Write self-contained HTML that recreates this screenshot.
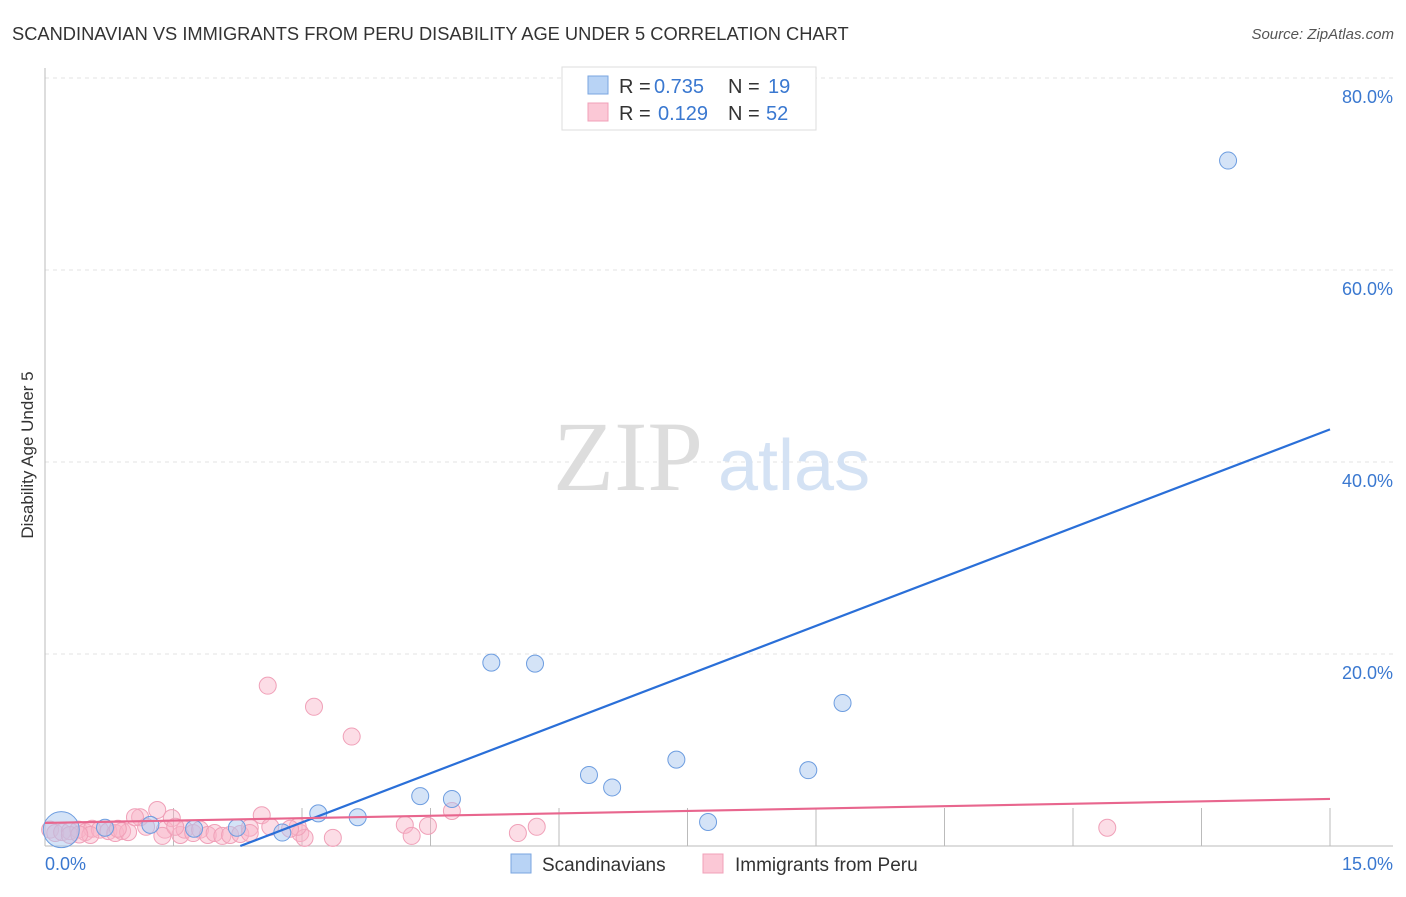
<!DOCTYPE html>
<html><head><meta charset="utf-8"><style>
body{margin:0;background:#fff;font-family:"Liberation Sans",sans-serif;}
svg text{font-family:"Liberation Sans",sans-serif;}
svg text.serif{font-family:"Liberation Serif",serif;}
</style></head><body>
<svg width="1406" height="892" xmlns="http://www.w3.org/2000/svg">
<text x="12" y="40" font-size="18.3" fill="#333">SCANDINAVIAN VS IMMIGRANTS FROM PERU DISABILITY AGE UNDER 5 CORRELATION CHART</text>
<text x="1394" y="39" font-size="15" fill="#555" font-style="italic" text-anchor="end">Source: ZipAtlas.com</text>
<g id="grid"></g>
<g id="ticks"></g>
<line x1="45" y1="68" x2="45" y2="846" stroke="#bbb"/>
<line x1="45" y1="846" x2="1393" y2="846" stroke="#bbb"/>
<g id="xticks"></g>
<text class="serif" x="553" y="490" font-size="100" fill="#ddd">ZIP</text>
<text x="718" y="490" font-size="72" fill="#d4e2f4">atlas</text>
<text x="33" y="455" font-size="17" fill="#333" text-anchor="middle" transform="rotate(-90 33 455)">Disability Age Under 5</text>
<text x="45" y="870" font-size="18" fill="#3a78d0">0.0%</text>
<text x="1393" y="870" font-size="18" fill="#3a78d0" text-anchor="end">15.0%</text>
<g id="pink"></g>
<g id="blue"></g>
<g id="lines"></g>
<g>
<rect x="562" y="67" width="254" height="63" fill="#fff" stroke="#ddd"/>
<rect x="588" y="76" width="20" height="18" fill="#b8d3f5" stroke="#7aa6e0"/>
<rect x="588" y="103" width="20" height="18" fill="#fbc8d6" stroke="#f0a0b8"/>
<text x="619" y="93" font-size="20" fill="#333">R = <tspan fill="#3a78d0" x="654">0.735</tspan><tspan x="728">N = </tspan><tspan fill="#3a78d0" x="768">19</tspan></text>
<text x="619" y="120" font-size="20" fill="#333">R = <tspan fill="#3a78d0" x="658">0.129</tspan><tspan x="728">N = </tspan><tspan fill="#3a78d0" x="766">52</tspan></text>
</g>
<g>
<rect x="511" y="854" width="20" height="19" fill="#b8d3f5" stroke="#7aa6e0"/>
<text x="542" y="871" font-size="19" fill="#333">Scandinavians</text>
<rect x="703" y="854" width="20" height="19" fill="#fbc8d6" stroke="#f0a0b8"/>
<text x="735" y="871" font-size="19" fill="#333">Immigrants from Peru</text>
</g>
</svg>
<script>
const yTicks=[20,40,60,80];
const yTickLabels=["20.0%","40.0%","60.0%","80.0%"];
const blueX=[0.19,0.70,1.23,1.74,2.24,2.77,3.19,3.65,4.38,4.75,5.21,5.72,6.35,6.62,7.37,7.74,8.91,9.31,13.81];
const blueY=[1.7,1.9,2.2,1.8,1.9,1.4,3.4,3.0,5.2,4.9,19.1,19.0,7.4,6.1,9.0,2.5,7.9,14.9,71.4];
const pinkX=[0.06,0.12,0.20,0.29,0.39,0.47,0.55,0.64,0.74,0.82,0.90,0.97,1.11,1.18,1.31,1.40,1.48,1.58,1.63,1.73,1.81,1.90,1.98,2.07,2.16,2.28,2.39,2.53,2.63,2.98,3.03,2.95,3.36,4.20,4.28,4.47,4.75,5.52,5.74,12.40,2.60,3.14,3.58,0.29,0.53,0.85,1.05,2.39,2.86,1.37,1.52,0.40];
const pinkY=[1.7,1.35,1.45,1.55,1.7,1.45,1.8,1.7,1.55,1.35,1.55,1.45,3.0,2.0,3.75,1.7,2.9,1.15,1.7,1.35,1.7,1.15,1.35,1.05,1.15,1.25,1.9,3.2,2.0,1.35,0.85,2.0,0.85,2.2,1.05,2.1,3.65,1.35,2.0,1.9,16.7,14.5,11.4,1.15,1.15,1.8,3.0,1.35,1.8,1.05,2.0,1.2];
const blueLine=[2.28,0,15,43.4];
const pinkLine=[0,2.4,15,4.9];
const xs=v=>45+v/15*1285, ys=v=>846-v*9.6;
const NS="http://www.w3.org/2000/svg";
function mk(tag,parent,attrs){const e=document.createElementNS(NS,tag);for(const k in attrs)e.setAttribute(k,attrs[k]);document.getElementById(parent).appendChild(e);return e;}
yTicks.forEach((t,i)=>{
 const l=mk('line','grid',{x1:45,x2:1393,y1:ys(t),y2:ys(t),stroke:'#e3e3e3','stroke-dasharray':'4,4'});
 
 
 const tx=mk('text','ticks',{x:1393,y:ys(t)+25,'font-size':18,fill:'#3a78d0','text-anchor':'end'});
 tx.textContent=yTickLabels[i];
 
 
});
for(let i=1;i<=10;i++){
 const l=mk('line','xticks',{x1:xs(i*1.5),x2:xs(i*1.5),y1:808,y2:846,stroke:'#bbb'});
 
 
}
pinkX.forEach((x,i)=>{
 const c=mk('circle','pink',{cx:xs(x),cy:ys(pinkY[i]),r:8.5,fill:'rgba(248,180,200,0.45)',stroke:'#f0a0b8','stroke-width':1});
 
 
});
blueX.forEach((x,i)=>{
 const c=mk('circle','blue',{cx:xs(x),cy:ys(blueY[i]),r:i===0?18:8.5,fill:'rgba(170,200,240,0.5)',stroke:'#6d9de0','stroke-width':1});
 
 
});
const bl=mk('line','lines',{x1:xs(blueLine[0]),y1:ys(blueLine[1]),x2:xs(blueLine[2]),y2:ys(blueLine[3]),stroke:'#2a6fd8','stroke-width':2.2});


const pl=mk('line','lines',{x1:xs(pinkLine[0]),y1:ys(pinkLine[1]),x2:xs(pinkLine[2]),y2:ys(pinkLine[3]),stroke:'#e8668e','stroke-width':2.2});


</script>
</body></html>
